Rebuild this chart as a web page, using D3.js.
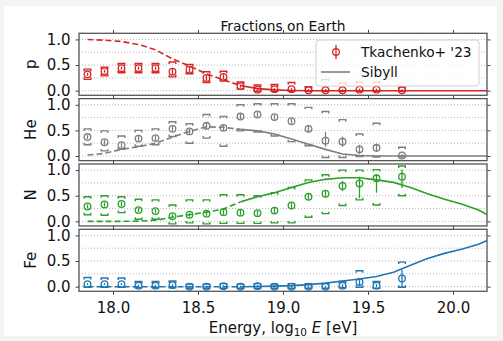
<!DOCTYPE html>
<html>
<head>
<meta charset="utf-8">
<script src="https://cdn.jsdelivr.net/npm/d3@7"></script>
<style>
body { margin: 0; background: #f4f4f4; }
svg { display: block; font-family: "DejaVu Sans", sans-serif; }
</style>
</head>
<body>
<div id="chart-area"></div>
<script>
// measured fractions (Tkachenko+ '23)
var energy = [17.85, 17.95, 18.05, 18.15, 18.25, 18.35, 18.45, 18.55, 18.65, 18.75, 18.85, 18.95, 19.05, 19.15, 19.25, 19.35, 19.45, 19.55, 19.7];

var pFrac  = [0.32, 0.38, 0.44, 0.44, 0.44, 0.37, 0.41, 0.25, 0.27, 0.09, 0.02, 0.03, 0.03, 0.01, 0.01, 0.01, 0.02, 0.02, 0.01];
var pDown  = [0.03, 0.03, 0.03, 0.03, 0.03, 0.06, 0.05, 0.05, 0.05, 0.03, 0.02, 0.02, 0.02, 0.02, 0.02, 0.02, 0.02, 0.02, 0.02];
var pUp    = [0.03, 0.03, 0.03, 0.03, 0.03, 0.06, 0.05, 0.05, 0.05, 0.03, 0.02, 0.02, 0.02, 0.02, 0.02, 0.02, 0.02, 0.02, 0.02];
var pSysLo = [0.22, 0.29, 0.35, 0.35, 0.35, 0.27, 0.33, 0.16, 0.19, 0.03, -0.01, -0.01, -0.01, -0.01, -0.01, -0.01, -0.01, -0.01, -0.01];
var pSysHi = [0.42, 0.46, 0.53, 0.53, 0.53, 0.56, 0.51, 0.37, 0.38, 0.17, 0.11, 0.12, 0.16, 0.08, 0.22, 0.15, 0.17, 0.17, 0.07];

var heFrac  = [0.37, 0.27, 0.21, 0.34, 0.35, 0.53, 0.48, 0.59, 0.55, 0.77, 0.81, 0.76, 0.68, 0.53, 0.30, 0.28, 0.13, 0.16, 0.01];
var heDown  = [0.04, 0.05, 0.05, 0.05, 0.05, 0.05, 0.05, 0.06, 0.06, 0.05, 0.05, 0.05, 0.05, 0.06, 0.12, 0.10, 0.09, 0.08, 0.03];
var heUp    = [0.04, 0.05, 0.05, 0.05, 0.05, 0.05, 0.05, 0.06, 0.06, 0.05, 0.05, 0.05, 0.05, 0.06, 0.17, 0.10, 0.09, 0.08, 0.03];
var heSysLo = [0.22, 0.10, 0.13, 0.19, 0.22, 0.38, 0.25, 0.35, 0.19, 0.49, 0.47, 0.39, 0.28, 0.20, -0.03, -0.03, -0.01, -0.02, -0.02];
var heSysHi = [0.53, 0.49, 0.39, 0.50, 0.53, 0.67, 0.63, 0.81, 0.77, 1.00, 1.02, 1.02, 1.02, 0.95, 0.87, 0.71, 0.43, 0.64, 0.17];

var nFrac  = [0.29, 0.33, 0.34, 0.22, 0.20, 0.10, 0.13, 0.15, 0.18, 0.17, 0.16, 0.21, 0.31, 0.48, 0.54, 0.69, 0.74, 0.84, 0.87];
var nDown  = [0.04, 0.04, 0.04, 0.04, 0.04, 0.04, 0.04, 0.04, 0.05, 0.05, 0.05, 0.05, 0.05, 0.06, 0.07, 0.10, 0.29, 0.28, 0.22];
var nUp    = [0.04, 0.04, 0.04, 0.04, 0.04, 0.04, 0.04, 0.04, 0.05, 0.05, 0.05, 0.05, 0.05, 0.06, 0.07, 0.10, 0.13, 0.08, 0.14];
var nSysLo = [0.13, 0.12, 0.17, 0.04, 0.04, -0.05, -0.03, -0.05, -0.04, -0.04, -0.04, -0.03, -0.03, 0.08, 0.15, 0.31, 0.42, 0.32, 0.50];
var nSysHi = [0.48, 0.50, 0.48, 0.43, 0.42, 0.32, 0.42, 0.42, 0.52, 0.52, 0.50, 0.56, 0.66, 0.81, 0.91, 1.00, 1.00, 1.01, 1.08];

var feFrac  = [0.05, 0.05, 0.05, 0.02, 0.02, 0.03, 0.00, 0.00, 0.01, 0.00, 0.01, 0.00, 0.00, 0.00, 0.00, 0.02, 0.09, 0.02, 0.16];
var feDown  = [0.02, 0.02, 0.02, 0.02, 0.02, 0.02, 0.02, 0.02, 0.02, 0.02, 0.02, 0.02, 0.02, 0.02, 0.02, 0.03, 0.07, 0.03, 0.17];
var feUp    = [0.02, 0.02, 0.02, 0.02, 0.02, 0.02, 0.02, 0.02, 0.02, 0.02, 0.02, 0.02, 0.02, 0.02, 0.02, 0.03, 0.07, 0.03, 0.17];
var feSysLo = [-0.01, -0.01, -0.01, -0.02, -0.02, -0.02, -0.03, -0.03, -0.03, -0.03, -0.03, -0.03, -0.03, -0.03, -0.03, -0.02, -0.01, -0.03, -0.01];
var feSysHi = [0.18, 0.17, 0.17, 0.10, 0.10, 0.11, 0.05, 0.05, 0.06, 0.05, 0.06, 0.05, 0.06, 0.06, 0.06, 0.10, 0.31, 0.10, 0.48];

// Sibyll model curves
var modelE  = [17.85, 17.95, 18.05, 18.15, 18.25, 18.35, 18.45, 18.55, 18.65, 18.75, 18.85, 18.95, 19.05, 19.15, 19.25, 19.35, 19.45, 19.55, 19.65, 19.75, 19.85, 19.95, 20.05, 20.15, 20.25];
var pModel  = [1.0, 0.985, 0.96, 0.9, 0.8, 0.62, 0.48, 0.33, 0.21, 0.1, 0.04, 0.015, 0.005, 0, 0, 0, 0, 0, 0, 0, 0, 0, 0, 0, 0];
var heModel = [0.02, 0.05, 0.13, 0.18, 0.25, 0.37, 0.48, 0.57, 0.56, 0.52, 0.49, 0.43, 0.33, 0.23, 0.13, 0.04, 0.01, 0, 0, 0, 0, 0, 0, 0, 0];
var nModel  = [0, 0, 0, 0.005, 0.02, 0.08, 0.13, 0.18, 0.24, 0.38, 0.48, 0.56, 0.66, 0.76, 0.82, 0.85, 0.85, 0.81, 0.76, 0.66, 0.54, 0.43, 0.34, 0.22, 0.04];
var feModel = [0, 0, 0, 0, 0, 0, 0, 0, 0, 0, 0.003, 0.01, 0.02, 0.04, 0.07, 0.11, 0.15, 0.2, 0.28, 0.42, 0.55, 0.65, 0.73, 0.83, 0.97];
var modelCut = 18.75;   // dashed below, solid above

var xTicks = [18.0, 18.5, 19.0, 19.5, 20.0];
var yTicks = [0, 0.5, 1.0];
var yGrid = [0, 0.25, 0.5, 0.75, 1.0];

var panels = [
	{label: "p",  color: "#d62728", frac: pFrac,  down: pDown,  up: pUp,  lo: pSysLo,  hi: pSysHi,  model: pModel},
	{label: "He", color: "#7f7f7f", frac: heFrac, down: heDown, up: heUp, lo: heSysLo, hi: heSysHi, model: heModel},
	{label: "N",  color: "#2ca02c", frac: nFrac,  down: nDown,  up: nUp,  lo: nSysLo,  hi: nSysHi,  model: nModel},
	{label: "Fe", color: "#1f77b4", frac: feFrac, down: feDown, up: feUp, lo: feSysLo, hi: feSysHi, model: feModel}
];

var svg = d3.select("#chart-area").append("svg").attr("width", 503).attr("height", 341);
svg.append("rect").attr("x", 4).attr("y", 6).attr("width", 493).attr("height", 330).attr("fill", "#fff");

var left = 79, right = 487;
var panelTop = 33.3, panelH = 62, panelStep = 65.33;
var tickFont = "15px";

var x = d3.scaleLinear().domain([17.8, 20.2]).range([left, right]);

svg.append("defs").append("clipPath").attr("id", "clip-x")
	.append("rect").attr("x", left).attr("y", 0).attr("width", right - left).attr("height", 341);

panels.forEach(function(p, i) {
	var top = panelTop + i * panelStep;
	var y = d3.scaleLinear().domain([-0.09, 1.12]).range([top + panelH, top]);
	var g = svg.append("g");

	// dotted grid
	g.selectAll(".grid").data(yGrid).enter().append("line")
		.attr("x1", left).attr("x2", right)
		.attr("y1", d => y(d)).attr("y2", d => y(d))
		.attr("stroke", "#b0b0b0").attr("stroke-width", 0.9)
		.attr("stroke-dasharray", "1,2");

	// model line
	var line = d3.line().x(d => x(d[0])).y(d => y(d[1]));
	var pts = modelE.map((e, k) => [e, p.model[k]]);
	var lg = g.append("g").attr("clip-path", "url(#clip-x)");
	lg.append("path").datum(pts.filter(d => d[0] <= modelCut)).attr("d", line)
		.attr("fill", "none").attr("stroke", p.color).attr("stroke-width", 1.6)
		.attr("stroke-dasharray", "6,3");
	lg.append("path").datum(pts.filter(d => d[0] >= modelCut)).attr("d", line)
		.attr("fill", "none").attr("stroke", p.color).attr("stroke-width", 1.6);

	// systematic brackets
	var hw = 3.3, tip = 2;
	var data = energy.map((e, k) => ({e: e, f: p.frac[k], dn: p.down[k], up: p.up[k], lo: p.lo[k], hi: p.hi[k]}));
	g.selectAll(".sys").data(data).enter().append("path")
		.attr("d", function(d) {
			var cx = x(d.e), yh = y(d.hi), yl = y(d.lo);
			return "M" + (cx - hw) + "," + (yh + tip) + "V" + yh + "H" + (cx + hw) + "V" + (yh + tip) +
				"M" + (cx - hw) + "," + (yl - tip) + "V" + yl + "H" + (cx + hw) + "V" + (yl - tip);
		})
		.attr("fill", "none").attr("stroke", p.color).attr("stroke-width", 1.4);

	// statistical error bars
	g.selectAll(".err").data(data).enter().append("line")
		.attr("x1", d => x(d.e)).attr("x2", d => x(d.e))
		.attr("y1", d => y(d.f - d.dn)).attr("y2", d => y(d.f + d.up))
		.attr("stroke", p.color).attr("stroke-width", 1.3);

	g.selectAll(".pt").data(data).enter().append("circle")
		.attr("cx", d => x(d.e)).attr("cy", d => y(d.f)).attr("r", 3.3)
		.attr("fill", "none").attr("stroke", p.color).attr("stroke-width", 1.3);

	// axes
	var leftAxis = d3.axisLeft(y).tickValues(yTicks).tickFormat(d3.format(".1f")).tickSize(3.5).tickPadding(5);
	var rightAxis = d3.axisRight(y).tickValues(yTicks).tickFormat("").tickSize(3.5);
	var topAxis = d3.axisTop(x).tickValues(xTicks).tickFormat("").tickSize(3.5);
	var bottomAxis = d3.axisBottom(x).tickValues(xTicks).tickSize(3.5).tickPadding(8)
		.tickFormat(i == panels.length - 1 ? d3.format(".1f") : "");

	var axes = [
		g.append("g").attr("transform", "translate(" + left + ",0)").call(leftAxis),
		g.append("g").attr("transform", "translate(" + right + ",0)").call(rightAxis),
		g.append("g").attr("transform", "translate(0," + top + ")").call(topAxis),
		g.append("g").attr("transform", "translate(0," + (top + panelH) + ")").call(bottomAxis)
	];
	axes.forEach(function(a) {
		a.select(".domain").remove();
		a.selectAll("line").attr("stroke", "#444").attr("stroke-width", 1);
		a.selectAll("text").attr("font-size", tickFont).attr("fill", "#111")
			.attr("font-family", "DejaVu Sans");
	});

	g.append("rect").attr("x", left).attr("y", top).attr("width", right - left).attr("height", panelH)
		.attr("fill", "none").attr("stroke", "#555").attr("stroke-width", 1.3);

	g.append("text")
		.attr("transform", "translate(36," + (top + panelH / 2) + ") rotate(-90)")
		.attr("text-anchor", "middle").attr("font-size", tickFont).attr("fill", "#111")
		.text(p.label);
});

svg.append("text")
	.attr("x", (left + right) / 2).attr("y", 30.5)
	.attr("text-anchor", "middle").attr("font-size", "13.8px").attr("fill", "#111")
	.text("Fractions on Earth");

var xLabel = svg.append("text")
	.attr("x", (left + right) / 2).attr("y", 333)
	.attr("text-anchor", "middle").attr("font-size", tickFont).attr("fill", "#111");
xLabel.append("tspan").text("Energy, log");
xLabel.append("tspan").attr("font-size", "10.5px").attr("dy", 3).text("10");
xLabel.append("tspan").attr("dy", -3).attr("font-style", "italic").text(" E");
xLabel.append("tspan").text(" [eV]");

// legend
var leg = svg.append("g");
leg.append("rect").attr("x", 316).attr("y", 40).attr("width", 163).attr("height", 46).attr("rx", 3)
	.attr("fill", "#fff").attr("fill-opacity", 0.8).attr("stroke", "#d0d0d0").attr("stroke-width", 1);
leg.append("line").attr("x1", 336).attr("x2", 336).attr("y1", 45).attr("y2", 59)
	.attr("stroke", "#d62728").attr("stroke-width", 1.3);
leg.append("circle").attr("cx", 336).attr("cy", 52).attr("r", 3.3)
	.attr("fill", "none").attr("stroke", "#d62728").attr("stroke-width", 1.3);
leg.append("text").attr("x", 361).attr("y", 57).attr("font-size", "13.7px").attr("fill", "#111")
	.text("Tkachenko+ '23");
leg.append("line").attr("x1", 321).attr("x2", 350).attr("y1", 72).attr("y2", 72)
	.attr("stroke", "#7f7f7f").attr("stroke-width", 1.6);
leg.append("text").attr("x", 361).attr("y", 77).attr("font-size", "13.7px").attr("fill", "#111")
	.text("Sibyll");
</script>
</body>
</html>
